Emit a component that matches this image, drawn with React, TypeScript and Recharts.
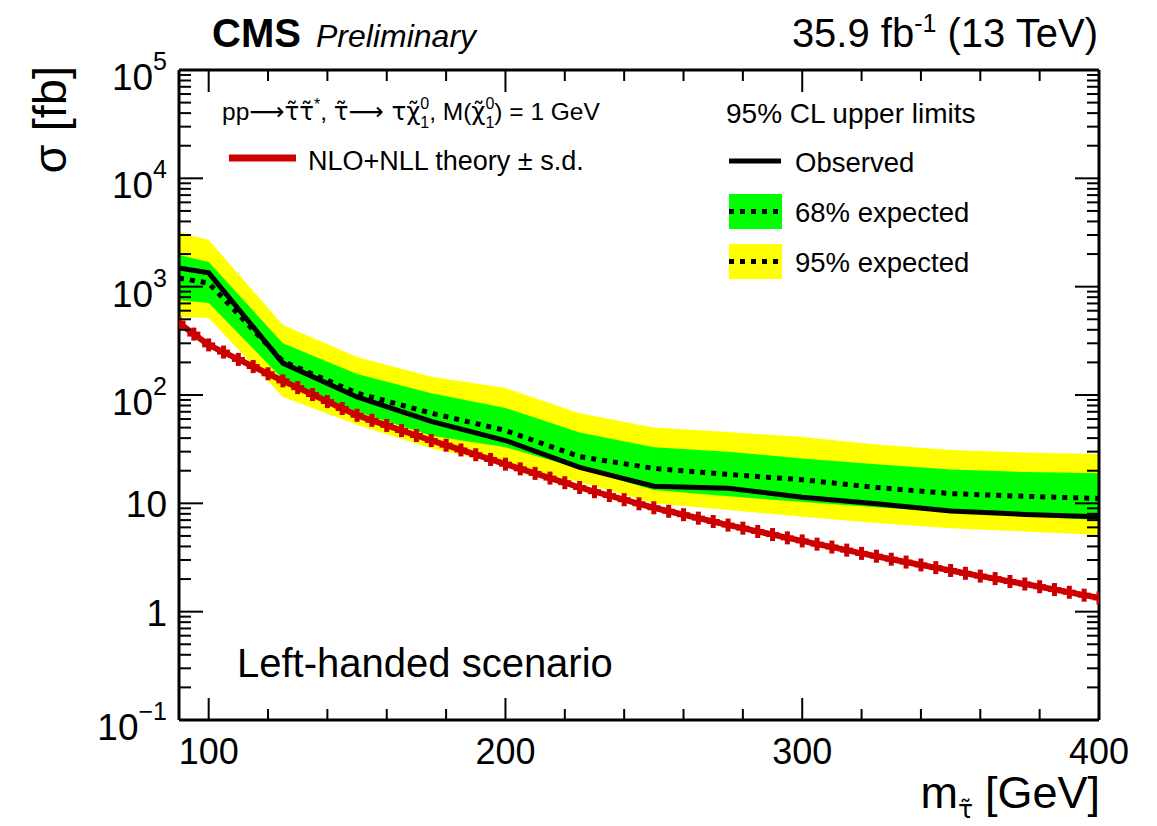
import React from 'react';
import { ComposedChart, Area, Line, XAxis, YAxis } from 'recharts';

const FONT = '"Liberation Sans", Arial, Helvetica, sans-serif';
const GREEK = '"DejaVu Sans", sans-serif';

// upper limits (fb)
const masses = [90, 100, 125, 150, 175, 200, 225, 250, 275, 300, 325, 350, 375, 400];
const observed = [1490, 1340, 197, 96, 57, 38, 21.5, 14.4, 13.8, 11.4, 9.9, 8.5, 7.9, 7.5];
const expected = [1200, 1080, 205, 104, 68, 47, 27, 21, 18.5, 16.5, 14, 12.3, 11.6, 11.1];
const exp68Low = [750, 705, 140, 70, 42, 33, 21, 13.3, 11.6, 10.3, 9.2, 8.3, 7.6, 7.0];
const exp68High = [1960, 1690, 300, 156, 104, 76, 45, 33, 30, 26, 23, 20.5, 19.5, 19];
const exp95Low = [525, 514, 96, 53, 32, 23, 15.7, 10, 8.7, 7.5, 6.6, 5.9, 5.5, 5.1];
const exp95High = [3200, 2700, 443, 224, 147, 116, 68, 50, 45.5, 41, 35, 31, 29.5, 28.5];

// NLO+NLL theory cross section (fb)
const theoryMasses = [
  90, 95, 100, 105, 110, 115, 120, 125, 130, 135, 140, 145, 150, 155, 160, 165,
  170, 175, 180, 185, 190, 195, 200, 205, 210, 215, 220, 225, 230, 235, 240, 245,
  250, 255, 260, 265, 270, 275, 280, 285, 290, 295, 300, 305, 310, 315, 320, 325,
  330, 335, 340, 345, 350, 355, 360, 365, 370, 375, 380, 385, 390, 395, 400,
];
const theoryXsec = [
  462, 365, 290, 249, 213, 183, 157, 135, 117, 101, 87, 75, 65, 58.4, 52.4, 47,
  42.3, 38, 34.4, 31.1, 28.1, 25.4, 23, 20.8, 18.9, 17.1, 15.5, 14, 12.8, 11.8, 10.8, 9.9,
  9.1, 8.45, 7.85, 7.3, 6.8, 6.3, 5.9, 5.5, 5.15, 4.8, 4.5, 4.2, 3.95, 3.7, 3.45, 3.25,
  3.05, 2.87, 2.7, 2.55, 2.4, 2.26, 2.13, 2.02, 1.9, 1.8, 1.7, 1.6, 1.51, 1.42, 1.34,
];

const xTicks = [100, 120, 140, 160, 180, 200, 220, 240, 260, 280, 300, 320, 340, 360, 380, 400];
const yMajor = [0.1, 1, 10, 100, 1000, 10000, 100000];
const yExponent: Record<number, string> = { 0.1: '\u22121', 100: '2', 1000: '3', 10000: '4', 100000: '5' };
const yTicks: number[] = [];
yMajor.forEach((d, i) => {
  yTicks.push(d);
  if (i < yMajor.length - 1) for (let k = 2; k <= 9; k++) yTicks.push(+(d * k).toPrecision(3));
});

const limits = masses.map((m, i) => ({
  m,
  obs: observed[i],
  exp: expected[i],
  band68: [exp68Low[i], exp68High[i]],
  band95: [exp95Low[i], exp95High[i]],
}));
const theory = theoryMasses.map((m, i) => ({ m, xsec: theoryXsec[i] }));

const isMajorY = (v: number) => yMajor.includes(v);

const BottomTick = ({ x, y, payload }: any) => {
  const major = payload.value % 100 === 0;
  return (
    <g>
      <line x1={x} x2={x} y1={y} y2={y - (major ? 22 : 11)} stroke="#000" strokeWidth={2} />
      {major && (
        <text x={x} y={y + 44} textAnchor="middle" fontSize={36} fontFamily={FONT} fill="#000">
          {payload.value}
        </text>
      )}
    </g>
  );
};

const TopTick = ({ x, y, payload }: any) => {
  const major = payload.value % 100 === 0;
  return <line x1={x} x2={x} y1={y} y2={y + (major ? 22 : 11)} stroke="#000" strokeWidth={2} />;
};

const LeftTick = ({ x, y, payload }: any) => {
  const v = payload.value;
  const major = isMajorY(v);
  const ex = yExponent[v];
  return (
    <g>
      <line x1={x} x2={x + (major ? 24 : 12)} y1={y} y2={y} stroke="#000" strokeWidth={2} />
      {major && ex && (
        <text x={x - 12} y={y + 20} textAnchor="end" fontSize={37} fontFamily={FONT} fill="#000">
          10<tspan dy={-20} fontSize={25}>{ex}</tspan>
        </text>
      )}
      {major && !ex && (
        <text x={x - 12} y={y + 14} textAnchor="end" fontSize={37} fontFamily={FONT} fill="#000">
          {v}
        </text>
      )}
    </g>
  );
};

const RightTick = ({ x, y, payload }: any) => {
  const major = isMajorY(payload.value);
  return <line x1={x} x2={x - (major ? 24 : 12)} y1={y} y2={y} stroke="#000" strokeWidth={2} />;
};

const CrossDot = ({ cx, cy }: any) => {
  if (cx == null || cy == null) return null;
  return (
    <g>
      <rect x={cx - 6.5} y={cy - 2.5} width={13} height={5} fill="#cc0000" />
      <rect x={cx - 2.5} y={cy - 6.5} width={5} height={13} fill="#cc0000" />
    </g>
  );
};

const Overlay = () => (
  <svg
    width={1157}
    height={826}
    style={{ position: 'absolute', left: 0, top: 0, pointerEvents: 'none' }}
    fontFamily={FONT}
  >
    <text x={212} y={47} fontSize={40} fontWeight="bold">CMS</text>
    <text x={316} y={47} fontSize={32} fontStyle="italic">Preliminary</text>
    <text x={1098} y={47} fontSize={40} textAnchor="end">
      35.9 fb<tspan dy={-15} fontSize={25}>-1</tspan>
      <tspan dy={15}> (13 TeV)</tspan>
    </text>

    <text x={66} y={66} fontSize={47} textAnchor="end" transform="rotate(-90 66 66)">σ [fb]</text>
    <text x={1100} y={808} fontSize={45} textAnchor="end">
      m<tspan dy={10} fontSize={25} fontFamily={GREEK}>τ̃</tspan>
      <tspan dy={-10} dx={12}>[GeV]</tspan>
    </text>

    <text x={222} y={120} fontSize={24.5}>
      pp<tspan fontFamily={GREEK}>⟶τ̃τ̃</tspan>
      <tspan dy={-10} fontSize={16}>*</tspan>
      <tspan dy={10}>, </tspan>
      <tspan fontFamily={GREEK}>τ̃⟶ τχ̃</tspan>
      <tspan dy={8} fontSize={16}>1</tspan>
      <tspan dy={-19} dx={-9} fontSize={16}>0</tspan>
      <tspan dy={11}>, M(</tspan>
      <tspan fontFamily={GREEK}>χ̃</tspan>
      <tspan dy={8} fontSize={16}>1</tspan>
      <tspan dy={-19} dx={-9} fontSize={16}>0</tspan>
      <tspan dy={11}>) = 1 GeV</tspan>
    </text>
    <line x1={229} x2={296} y1={158} y2={158} stroke="#cc0000" strokeWidth={7} />
    <text x={308} y={170} fontSize={27}>NLO+NLL theory ± s.d.</text>

    <text x={726} y={123} fontSize={28}>95% CL upper limits</text>
    <line x1={729} x2={781} y1={161} y2={161} stroke="#000" strokeWidth={5} />
    <text x={795} y={172} fontSize={27.5}>Observed</text>
    <rect x={729} y={194} width={53} height={35} fill="#00ff00" />
    <line x1={729} x2={782} y1={211.5} y2={211.5} stroke="#000" strokeWidth={5} strokeDasharray="5 6" />
    <text x={795} y={222} fontSize={27.5}>68% expected</text>
    <rect x={729} y={244} width={53} height={35} fill="#ffff00" />
    <line x1={729} x2={782} y1={261.5} y2={261.5} stroke="#000" strokeWidth={5} strokeDasharray="5 6" />
    <text x={795} y={272} fontSize={27.5}>95% expected</text>

    <text x={237} y={677} fontSize={40}>Left-handed scenario</text>
  </svg>
);

export default function App() {
  return (
    <div style={{ position: 'absolute', left: 0, top: 0, width: 1157, height: 826, background: '#fff' }}>
      <ComposedChart
        width={1157}
        height={826}
        data={limits}
        margin={{ top: 60, right: 48, bottom: 46, left: 119 }}
      >
        <XAxis
          xAxisId="b"
          dataKey="m"
          type="number"
          domain={[90, 400]}
          allowDataOverflow
          ticks={xTicks}
          interval={0}
          height={60}
          tickSize={0}
          tickMargin={0}
          tickLine={false}
          axisLine={{ stroke: '#000', strokeWidth: 3 }}
          tick={<BottomTick />}
        />
        <XAxis
          xAxisId="t"
          orientation="top"
          dataKey="m"
          type="number"
          domain={[90, 400]}
          allowDataOverflow
          ticks={xTicks}
          interval={0}
          height={10}
          tickSize={0}
          tickMargin={0}
          tickLine={false}
          axisLine={{ stroke: '#000', strokeWidth: 3 }}
          tick={<TopTick />}
        />
        <YAxis
          yAxisId="l"
          type="number"
          scale="log"
          domain={[0.1, 100000]}
          allowDataOverflow
          ticks={yTicks}
          interval={0}
          width={60}
          tickSize={0}
          tickMargin={0}
          tickLine={false}
          axisLine={{ stroke: '#000', strokeWidth: 3 }}
          tick={<LeftTick />}
        />
        <YAxis
          yAxisId="r"
          orientation="right"
          type="number"
          scale="log"
          domain={[0.1, 100000]}
          allowDataOverflow
          ticks={yTicks}
          interval={0}
          width={10}
          tickSize={0}
          tickMargin={0}
          tickLine={false}
          axisLine={{ stroke: '#000', strokeWidth: 3 }}
          tick={<RightTick />}
        />
        <Area
          xAxisId="b"
          yAxisId="l"
          type="linear"
          dataKey="band95"
          stroke="none"
          fill="#ffff00"
          fillOpacity={1}
          isAnimationActive={false}
          activeDot={false}
        />
        <Area
          xAxisId="b"
          yAxisId="l"
          type="linear"
          dataKey="band68"
          stroke="none"
          fill="#00ff00"
          fillOpacity={1}
          isAnimationActive={false}
          activeDot={false}
        />
        <Line
          xAxisId="b"
          yAxisId="l"
          type="linear"
          dataKey="exp"
          stroke="#000"
          strokeWidth={5}
          strokeDasharray="5 6"
          dot={false}
          activeDot={false}
          isAnimationActive={false}
        />
        <Line
          xAxisId="b"
          yAxisId="l"
          type="linear"
          dataKey="obs"
          stroke="#000"
          strokeWidth={5}
          dot={false}
          activeDot={false}
          isAnimationActive={false}
        />
        <Line
          xAxisId="b"
          yAxisId="l"
          type="linear"
          data={theory}
          dataKey="xsec"
          stroke="#cc0000"
          strokeWidth={6}
          dot={<CrossDot />}
          activeDot={false}
          isAnimationActive={false}
        />
      </ComposedChart>
      <Overlay />
    </div>
  );
}
